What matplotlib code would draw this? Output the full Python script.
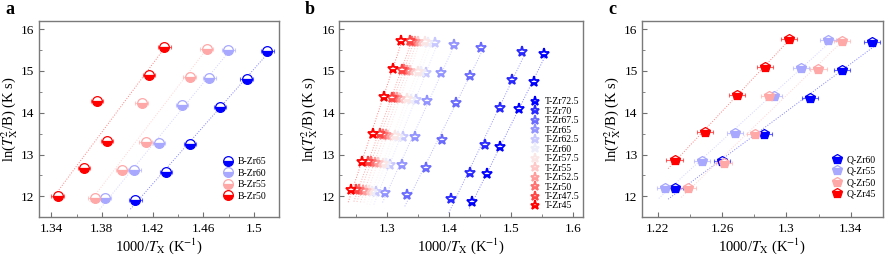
import numpy as np
import matplotlib
matplotlib.use('Agg')
import matplotlib.pyplot as plt
from matplotlib.lines import Line2D
from matplotlib.ticker import MultipleLocator

plt.rcParams['font.family'] = ['Liberation Serif', 'DejaVu Serif']
plt.rcParams['mathtext.fontset'] = 'stix'

# ---- panel a: B series (x = 1000/Tx, y = ln(Tx^2/B))
a_labels = ['B-Zr65', 'B-Zr60', 'B-Zr55', 'B-Zr50']
a_x = [
    [1.4065, 1.4305, 1.4496, 1.4731, 1.4942, 1.5107],
    [1.3822, 1.4055, 1.4251, 1.4433, 1.4647, 1.4799],
    [1.3744, 1.3961, 1.4146, 1.4114, 1.4493, 1.4627],
    [1.3452, 1.3658, 1.3840, 1.3762, 1.4172, 1.4292],
]
a_y = [
    [11.92, 12.59, 13.25, 14.13, 14.81, 15.47],
    [11.95, 12.62, 13.28, 14.18, 14.84, 15.51],
    [11.97, 12.64, 13.30, 14.23, 14.86, 15.53],
    [12.00, 12.67, 13.33, 14.27, 14.90, 15.58],
]
a_colors = ['#0000ff', '#a8a8ff', '#ffa8a8', '#ff0000']
a_ticks = [1.34, 1.38, 1.42, 1.46, 1.50]

# ---- panel b: T series
b_labels = ['T-Zr72.5', 'T-Zr70', 'T-Zr67.5', 'T-Zr65', 'T-Zr62.5', 'T-Zr60',
            'T-Zr57.5', 'T-Zr55', 'T-Zr52.5', 'T-Zr50', 'T-Zr47.5', 'T-Zr45']
b_x = [
    [1.4370, 1.4613, 1.4827, 1.5134, 1.5371, 1.5542],
    [1.4037, 1.4344, 1.4580, 1.4832, 1.5021, 1.5187],
    [1.3327, 1.3623, 1.3887, 1.4118, 1.4344, 1.4516],
    [1.2968, 1.3235, 1.3445, 1.3645, 1.3871, 1.4085],
    [1.2827, 1.3053, 1.3263, 1.3473, 1.3634, 1.3779],
    [1.2763, 1.2989, 1.3182, 1.3392, 1.3553, 1.3666],
    [1.2715, 1.2940, 1.3134, 1.3327, 1.3505, 1.3618],
    [1.2666, 1.2860, 1.3021, 1.3215, 1.3376, 1.3505],
    [1.2610, 1.2803, 1.2981, 1.3166, 1.3327, 1.3456],
    [1.2553, 1.2747, 1.2932, 1.3118, 1.3279, 1.3408],
    [1.2505, 1.2698, 1.2892, 1.3077, 1.3239, 1.3368],
    [1.2413, 1.2602, 1.2768, 1.2952, 1.3090, 1.3220],
]
b_y = [
    [11.87, 12.53, 13.19, 14.08, 14.74, 15.40],
    [11.93, 12.57, 13.23, 14.11, 14.78, 15.45],
    [12.04, 12.69, 13.35, 14.23, 14.88, 15.54],
    [12.09, 12.75, 13.41, 14.28, 14.94, 15.61],
    [12.10, 12.76, 13.42, 14.30, 14.96, 15.66],
    [12.11, 12.77, 13.43, 14.31, 14.97, 15.67],
    [12.12, 12.78, 13.44, 14.32, 14.98, 15.68],
    [12.13, 12.79, 13.45, 14.33, 14.99, 15.69],
    [12.14, 12.80, 13.46, 14.34, 15.00, 15.70],
    [12.15, 12.81, 13.47, 14.35, 15.01, 15.70],
    [12.15, 12.82, 13.48, 14.36, 15.02, 15.71],
    [12.16, 12.83, 13.49, 14.38, 15.04, 15.72],
]
b_colors = ['#0000ff', '#2828ff', '#6a6aff', '#9494ff', '#c8c8ff', '#ececfa',
            '#fbe6e6', '#ffc8c8', '#ff9c9c', '#ff7070', '#ff4444', '#ff0000']
b_ticks = [1.3, 1.4, 1.5, 1.6]

# ---- panel c: Q series
c_labels = ['Q-Zr60', 'Q-Zr55', 'Q-Zr50', 'Q-Zr45']
c_x = [
    [1.2304, 1.2600, 1.2858, 1.3145, 1.3348, 1.3534],
    [1.2246, 1.2475, 1.2678, 1.2924, 1.3089, 1.3257],
    [1.2386, 1.2609, 1.2806, 1.2889, 1.3199, 1.3348],
    [1.2304, 1.2496, 1.2693, 1.2868, 1.3013],
]
c_y = [
    [12.19, 12.84, 13.49, 14.36, 15.02, 15.69],
    [12.20, 12.85, 13.52, 14.40, 15.06, 15.73],
    [12.19, 12.80, 13.48, 14.40, 15.05, 15.72],
    [12.88, 13.54, 14.42, 15.10, 15.76],
]
c_colors = ['#0000ff', '#a8a8ff', '#ffa8a8', '#ff0000']
c_ticks = [1.22, 1.26, 1.30, 1.34]

x_err = 0.005


def style_axes(ax, xlim, ticks, letter):
    ax.set_xlim(xlim)
    ax.set_ylim(11.5, 16.2)
    ax.set_xticks(ticks)
    ax.set_xticklabels([f'{t:g}' if len(f'{t:g}') > 3 else f'{t:.1f}' for t in ticks])
    step = ticks[1] - ticks[0]
    minors = np.arange(ticks[0] - step / 2, xlim[1], step)
    ax.set_xticks(minors[(minors > xlim[0]) & (minors < xlim[1])], minor=True)
    ax.yaxis.set_major_locator(MultipleLocator(1))
    ax.yaxis.set_minor_locator(MultipleLocator(0.5))
    ax.tick_params(which='both', direction='in', color='#707070', labelsize=9.5)
    ax.tick_params(which='major', length=3.5, width=0.8)
    ax.tick_params(which='minor', length=2, width=0.6)
    ax.tick_params(axis='x', pad=4)
    ax.tick_params(axis='y', pad=3)
    for s in ax.spines.values():
        s.set_color('#7a7a7a')
        s.set_linewidth(1.0)
    ax.set_xlabel(r'1000/$T_\mathrm{X}$ (K$^{-1}$)', fontsize=10.5, labelpad=1)
    ax.set_ylabel(r'ln($T_\mathrm{X}^2$/B) (K s)', fontsize=10.5, labelpad=1)
    ax.text(-0.12, 1.055, letter, transform=ax.transAxes, fontsize=13,
            fontweight='bold', va='center', ha='center')


def plot_panel(ax, xs, ys, colors, labels, marker, ms, mew, err=True):
    handles = []
    for x, y, c, lab in zip(xs, ys, colors, labels):
        x = np.array(x)
        y = np.array(y)
        # 线性拟合
        k, b = np.polyfit(x, y, 1)
        xf = np.linspace(x.min() - 0.004, x.max() + 0.002, 20)
        ax.plot(xf, k * xf + b, ls=':', lw=0.7, color=c, alpha=0.5, zorder=1)
        if err:
            ax.errorbar(x, y, xerr=x_err, fmt='none', ecolor=c, elinewidth=0.8,
                        capsize=1.5, capthick=0.8, alpha=0.6, zorder=2)
        ax.plot(x, y, ls='none', marker=marker, ms=ms, color=c,
                fillstyle='bottom', markerfacecoloralt='white', mec=c,
                mew=mew, zorder=3)
        handles.append(Line2D([], [], ls='none', marker=marker, ms=ms, color=c,
                              fillstyle='bottom', markerfacecoloralt='white',
                              mec=c, mew=mew, label=lab))
    return handles


fig = plt.figure(figsize=(8.86, 2.58), dpi=100)
ax_a = fig.add_axes([0.0435, 0.1578, 0.2717, 0.762])
ax_b = fig.add_axes([0.3830, 0.1578, 0.2754, 0.762])
ax_c = fig.add_axes([0.7243, 0.1578, 0.2723, 0.762])

h = plot_panel(ax_a, a_x, a_y, a_colors, a_labels, 'o', 7, 0.9)
style_axes(ax_a, (1.33, 1.52), a_ticks, 'a')
ax_a.legend(handles=h, loc='lower left', bbox_to_anchor=(0.74, 0.05),
            frameon=False, fontsize=7, handlelength=1.0, handletextpad=0.5,
            labelspacing=0.25, borderpad=0.2)

h = plot_panel(ax_b, b_x, b_y, b_colors, b_labels, '*', 8, 1.3, err=False)
style_axes(ax_b, (1.223, 1.617), b_ticks, 'b')
ax_b.legend(handles=h, loc='lower left', bbox_to_anchor=(0.755, 0.0),
            frameon=False, fontsize=7, handlelength=1.0, handletextpad=0.5,
            labelspacing=0.05, borderpad=0.2, markerscale=0.85)

h = plot_panel(ax_c, c_x, c_y, c_colors, c_labels, 'p', 7.5, 0.9)
style_axes(ax_c, (1.21, 1.36), c_ticks, 'c')
ax_c.legend(handles=h, loc='lower left', bbox_to_anchor=(0.76, 0.06),
            frameon=False, fontsize=7, handlelength=1.0, handletextpad=0.5,
            labelspacing=0.25, borderpad=0.2)

fig.savefig('out.png', dpi=100)
